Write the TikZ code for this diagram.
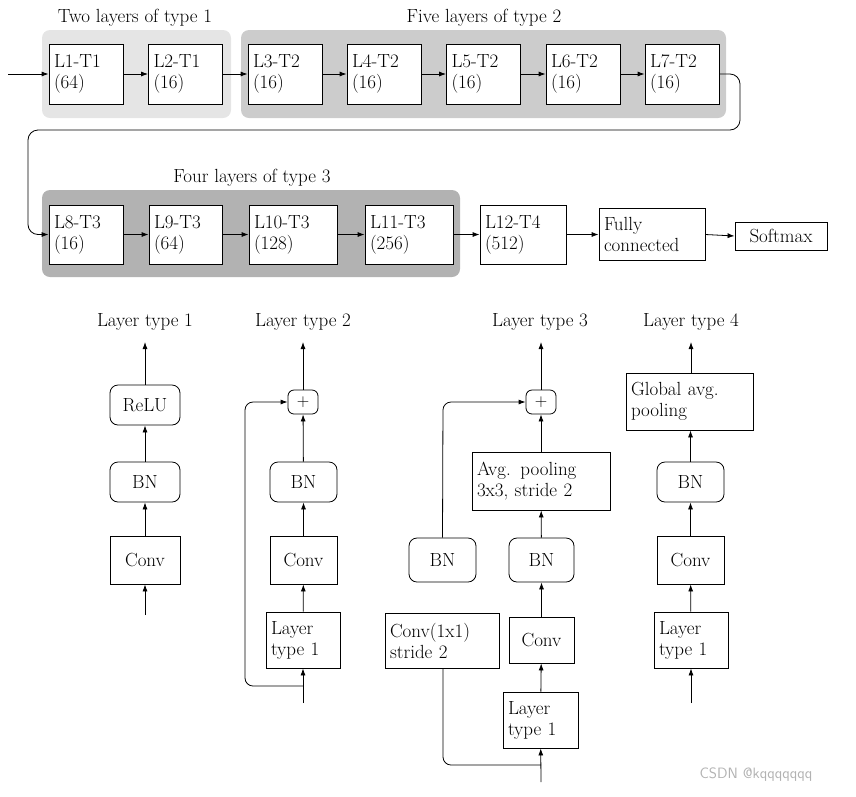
\documentclass[tikz,border=0pt]{standalone}
\usetikzlibrary{arrows.meta}
\begin{document}
\begin{tikzpicture}[x=1pt,y=-1pt,font=\fontsize{19}{21}\selectfont,
  box/.style args={#1/#2}{draw,thick,fill=white,minimum width=#1,minimum height=#2,text width=#1-10pt,align=left,inner sep=5pt},
  cbox/.style args={#1/#2}{draw,thick,fill=white,minimum width=#1,minimum height=#2,align=center,inner sep=3pt},
  rbox/.style args={#1/#2}{cbox=#1/#2,rounded corners=8pt},
  ar/.style={-{Latex[length=7pt,width=5pt]},thick},
  ln/.style={thick}]
\useasboundingbox (0,0) rectangle (856,796);
% backgrounds
\fill[gray!20,rounded corners=8pt] (42,30) rectangle (231,118);
\fill[gray!40,rounded corners=8pt] (241,30) rectangle (726,118);
\fill[gray!60,rounded corners=8pt] (42,190) rectangle (460,277);
\node at (135,18) {Two layers of type 1};
\node at (484,18) {Five layers of type 2};
\node at (252,178) {Four layers of type 3};
% top row
\coordinate (in) at (8,74);
\node[box=74/60] (l1) at (86,74) {L1-T1\\(64)};
\node[box=74/60] (l2) at (185.5,74) {L2-T1\\(16)};
\node[box=74/60] (l3) at (285,74) {L3-T2\\(16)};
\node[box=74/60] (l4) at (384,74) {L4-T2\\(16)};
\node[box=74/60] (l5) at (483.5,74) {L5-T2\\(16)};
\node[box=74/60] (l6) at (583,74) {L6-T2\\(16)};
\node[box=74/60] (l7) at (682,74) {L7-T2\\(16)};
\draw[ar] (in) -- (l1);
\foreach \a/\b in {l1/l2,l2/l3,l3/l4,l4/l5,l5/l6,l6/l7} \draw[ar] (\a) -- (\b);
% row 2
\node[box=74/59] (l8) at (86,234.5) {L8-T3\\(16)};
\node[box=73/59] (l9) at (185.5,234.5) {L9-T3\\(64)};
\node[box=88/59] (l10) at (293,234.5) {L10-T3\\(128)};
\node[box=88/59] (l11) at (409,234.5) {L11-T3\\(256)};
\node[box=86/59] (l12) at (523,234.5) {L12-T4\\(512)};
\node[box=106/52] (fc) at (652,234.5) {Fully\\connected};
\node[cbox=92/28] (sm) at (781,236) {Softmax};
\draw[ar,rounded corners=10pt] (l7.east) -- (740,74) -- (740,130) -- (28,130) -- (28,234.5) -- (l8.west);
\foreach \a/\b in {l8/l9,l9/l10,l10/l11,l11/l12,l12/fc} \draw[ar] (\a) -- (\b);
\draw[ar] (fc.east) -- (sm.west);
% type 1
\node (t1) at (145,322) {Layer type 1};
\node[rbox=70/40] (relu) at (145,405) {ReLU};
\node[rbox=70/40] (bn1) at (145,482) {BN};
\node[cbox=70/48] (cv1) at (145,560) {Conv};
\coordinate (i1) at (145,615);
\draw[ar] (relu.north) -- (145,342);
\draw[ar] (bn1) -- (relu);
\draw[ar] (cv1) -- (bn1);
\draw[ar] (i1) -- (cv1);
% type 2
\node (t2) at (303,322) {Layer type 2};
\node[rbox=30/24,rounded corners=6pt,inner sep=0pt] (p2) at (303,402) {$+$};
\node[rbox=67/40] (bn2) at (303.5,482) {BN};
\node[cbox=67/48] (cv2) at (303.5,560) {Conv};
\node[box=74/56] (lt2) at (303,640) {Layer\\type 1};
\coordinate (i2) at (303,703);
\coordinate (s2) at (303,686);
\draw[ar] (p2.north) -- (303,342);
\draw[ar] (bn2) -- (p2);
\draw[ar] (cv2) -- (bn2);
\draw[ar] (lt2) -- (cv2);
\draw[ar] (i2) -- (lt2);
\draw[ar,rounded corners=8pt] (s2) -- (245,686) -- (245,402) -- (p2.west);
% type 3
\node (t3) at (540,322) {Layer type 3};
\node[rbox=30/24,rounded corners=6pt,inner sep=0pt] (p3) at (541,402) {$+$};
\node[box=138/58] (ap) at (541,481) {Avg. pooling\\3x3, stride 2};
\node[rbox=65/44] (bn3) at (541.5,560) {BN};
\node[cbox=65/46] (cv3) at (541.5,640) {Conv};
\node[box=75/56] (lt3) at (540.5,720) {Layer\\type 1};
\coordinate (i3) at (541,782);
\coordinate (s3) at (541,765);
\node[box=114/55] (c11) at (442,640.5) {Conv(1x1)\\stride 2};
\node[rbox=67/44] (bn3b) at (442.5,560) {BN};
\draw[ar] (p3.north) -- (541,342);
\draw[ar] (ap) -- (p3);
\draw[ar] (bn3) -- (ap);
\draw[ar] (cv3) -- (bn3);
\draw[ar] (lt3) -- (cv3);
\draw[ar] (i3) -- (lt3);
\draw[ln,rounded corners=8pt] (s3) -- (443,765) -- (c11.south -| 443,0);
\draw[ar,rounded corners=8pt] (bn3b.north) -- (443,402) -- (p3.west);
% type 4
\node (t4) at (691,322) {Layer type 4};
\node[box=127/57] (gap) at (689.5,401.5) {Global avg.\\pooling};
\node[rbox=67/40] (bn4) at (690.5,482) {BN};
\node[cbox=67/48] (cv4) at (690.5,560) {Conv};
\node[box=74/56] (lt4) at (691,640) {Layer\\type 1};
\coordinate (i4) at (691,703);
\draw[ar] (gap.north -| 691,0) -- (691,342);
\draw[ar] (bn4) -- (bn4 |- gap.south);
\draw[ar] (cv4) -- (bn4);
\draw[ar] (lt4) -- (cv4);
\draw[ar] (i4) -- (lt4);
\node[gray!60,font=\fontsize{15}{17}\selectfont\sffamily] at (756,775) {CSDN @kqqqqqqq};
\end{tikzpicture}
\end{document}
